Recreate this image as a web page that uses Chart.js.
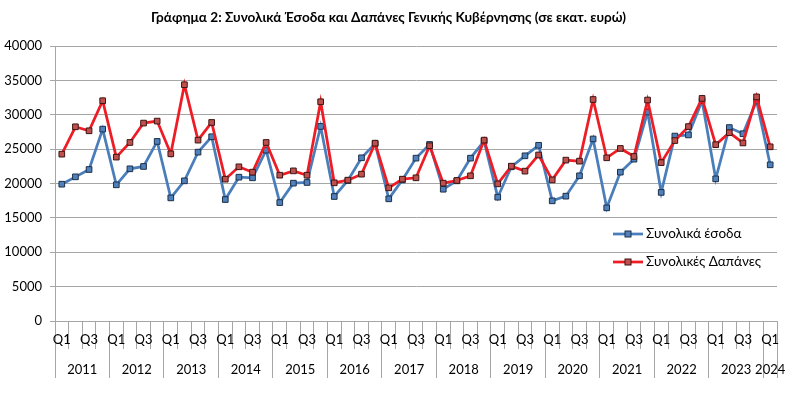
<!DOCTYPE html>
<html>
<head>
<meta charset="utf-8">
<script src="https://cdn.jsdelivr.net/npm/chart.js@4.4.1/dist/chart.umd.min.js"></script>
<style>
  html, body { margin: 0; padding: 0; background: #fff; }
</style>
</head>
<body>
<canvas id="chart" width="800" height="396"></canvas>
<script>
// Δεδομένα (εκατ. ευρώ), τρίμηνα 2011Q1 - 2024Q1
const years = ['2011', '2012', '2013', '2014', '2015', '2016', '2017',
               '2018', '2019', '2020', '2021', '2022', '2023', '2024'];
const quarters = ['Q1', 'Q2', 'Q3', 'Q4'];

const esoda = [
  19900, 20970, 22040, 27910,
  19810, 22140, 22480, 26120,
  17910, 20390, 24560, 26800,
  17670, 20920, 20830, 24850,
  17230, 20050, 20150, 28300,
  18110, 20440, 23740, 25800,
  17770, 20530, 23690, 25680,
  19170, 20390, 23690, 26170,
  18010, 22430, 24030, 25560,
  17480, 18160, 21120, 26480,
  16460, 21650, 23540, 30400,
  18710, 26900, 27070, 32040,
  20680, 28140, 27240, 31990,
  22720
];

const dapanes = [
  24270, 28250, 27670, 32040,
  23840, 25970, 28790, 29080,
  24320, 34370, 26310, 28880,
  20630, 22430, 21650, 25970,
  21210, 21840, 21210, 31890,
  20100, 20490, 21360, 25870,
  19370, 20630, 20830, 25490,
  20050, 20440, 21120, 26310,
  19950, 22520, 21800, 24150,
  20530, 23400, 23250, 32220,
  23740, 25100, 23930, 32140,
  23040, 26250, 28280, 32380,
  25650, 27400, 25900, 32600,
  25340
];

const yTicks = { min: 0, max: 40000, step: 5000 };

// ετικέτες τριμήνων και θέσεις ετών
const labels = [];
const yearCenters = {};
const yearBounds = [-0.5];
years.forEach(y => {
  const start = labels.length;
  quarters.forEach(q => { if (labels.length < esoda.length) labels.push(q); });
  const end = labels.length - 1;
  yearCenters[(start + end) / 2] = y;
  yearBounds.push(end + 0.5);
});
const yearTickValues = yearBounds.concat(Object.keys(yearCenters).map(Number)).sort((a, b) => a - b);

const FONT = "Lato, 'Open Sans', sans-serif";
const GRID = '#a6a6a6';

// υπόμνημα μέσα στην περιοχή του γραφήματος
const legendInside = {
  id: 'legendInside',
  afterDatasetsDraw(chart, args, opts) {
    const ctx = chart.ctx;
    ctx.save();
    chart.data.datasets.forEach((ds, i) => {
      const x = opts.x;
      const y = opts.y + i * opts.gap;
      ctx.strokeStyle = ds.borderColor;
      ctx.lineWidth = ds.borderWidth;
      ctx.beginPath();
      ctx.moveTo(x, y);
      ctx.lineTo(x + 30, y);
      ctx.stroke();
      ctx.fillStyle = ds.pointBackgroundColor;
      ctx.strokeStyle = ds.pointBorderColor;
      ctx.lineWidth = 1;
      ctx.fillRect(x + 12, y - 3, 6, 6);
      ctx.strokeRect(x + 12, y - 3, 6, 6);
      ctx.fillStyle = '#000';
      ctx.font = '13.5px ' + FONT;
      ctx.textBaseline = 'middle';
      ctx.fillText(ds.label, x + 33, y);
    });
    ctx.restore();
  }
};

new Chart(document.getElementById('chart'), {
  type: 'line',
  data: {
    labels: labels,
    datasets: [
      {
        label: 'Συνολικά έσοδα',
        data: esoda,
        borderColor: '#4a7ebb',
        borderWidth: 2.75,
        pointStyle: 'rect',
        pointRadius: 4,
        pointBorderWidth: 1,
        pointBackgroundColor: '#4f81bd',
        pointBorderColor: '#1d2f48',
        tension: 0,
        order: 1
      },
      {
        label: 'Συνολικές Δαπάνες',
        data: dapanes,
        borderColor: '#ee1c25',
        borderWidth: 2.75,
        pointStyle: 'rect',
        pointRadius: 4,
        pointBorderWidth: 1,
        pointBackgroundColor: '#c0504d',
        pointBorderColor: '#3b1514',
        tension: 0,
        order: 0
      }
    ]
  },
  options: {
    responsive: false,
    animation: false,
    devicePixelRatio: 1,
    layout: { padding: { left: 0, right: 23, top: 0, bottom: 15 } },
    plugins: {
      legend: { display: false },
      tooltip: { enabled: false },
      title: {
        display: true,
        text: 'Γράφημα 2: Συνολικά Έσοδα και Δαπάνες Γενικής Κυβέρνησης (σε εκατ. ευρώ)',
        color: '#000',
        font: { family: FONT, size: 13.6, weight: 'bold' },
        padding: { top: 9.5, bottom: 20.2 }
      },
      legendInside: { x: 613, y: 234, gap: 28 }
    },
    scales: {
      y: {
        min: yTicks.min,
        max: yTicks.max,
        ticks: {
          stepSize: yTicks.step,
          color: '#000',
          padding: 8,
          font: { family: FONT, size: 13 },
          callback: v => String(v)
        },
        grid: { color: GRID, tickLength: 5 },
        border: { color: GRID },
        afterFit: s => { s.width = 55; }
      },
      x: {
        type: 'category',
        offset: true,
        weight: 0,
        grid: { offset: true, drawOnChartArea: false, tickLength: 28, color: GRID },
        border: { color: GRID },
        ticks: {
          autoSkip: false,
          maxRotation: 0,
          padding: -16.8,
          color: '#000',
          font: { family: FONT, size: 13 },
          callback: (v, i) => (i % 2 === 0 ? labels[i] : '')
        },
        afterFit: s => { s.height = 28; }
      },
      x2: {
        type: 'linear',
        position: 'bottom',
        weight: 1,
        min: -0.5,
        max: labels.length - 0.5,
        grid: {
          drawOnChartArea: false,
          tickLength: 29,
          color: c => (c.tick && yearBounds.includes(c.tick.value) ? GRID : 'rgba(0,0,0,0)')
        },
        border: { display: false },
        ticks: {
          autoSkip: false,
          maxRotation: 0,
          padding: -15.8,
          color: '#000',
          font: { family: FONT, size: 13 },
          callback: v => yearCenters[v] || ''
        },
        afterBuildTicks: s => { s.ticks = yearTickValues.map(v => ({ value: v })); },
        afterFit: s => { s.height = 32; }
      }
    }
  },
  plugins: [legendInside]
});
</script>
</body>
</html>
